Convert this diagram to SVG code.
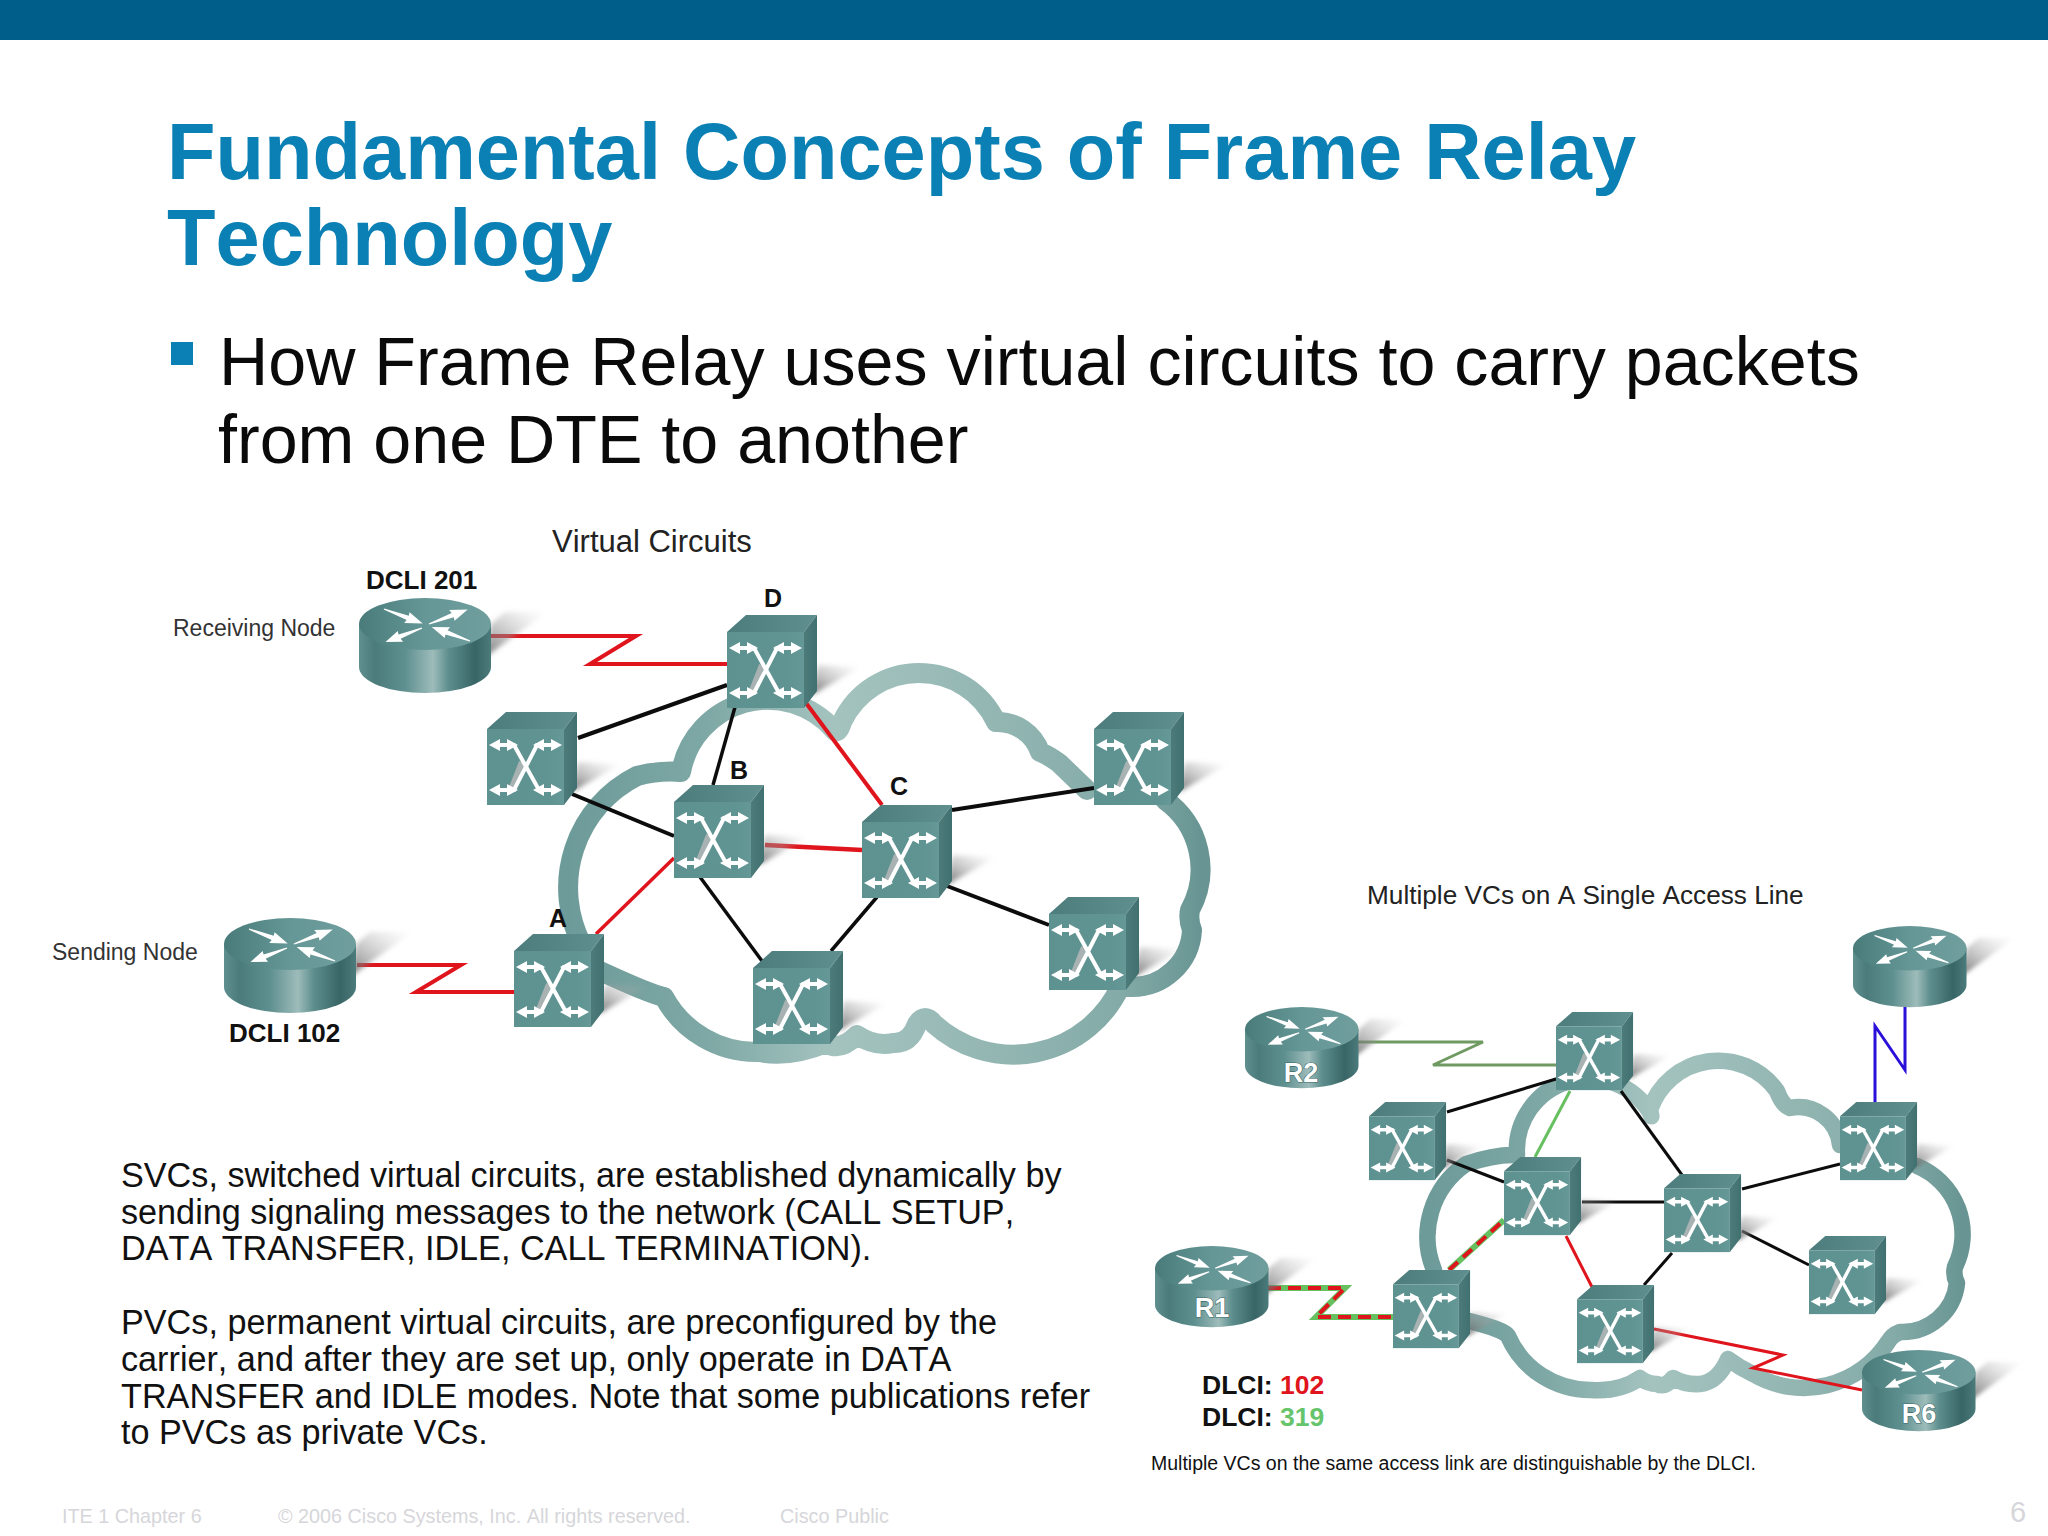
<svg xmlns="http://www.w3.org/2000/svg" xmlns:xlink="http://www.w3.org/1999/xlink" width="2048" height="1536" viewBox="0 0 2048 1536">
<style>
text{font-family:"Liberation Sans",Arial,sans-serif;font-kerning:none}
.title{font-size:79.4px;font-weight:700;fill:#0b80b4}
.bul{font-size:68.2px;fill:#0a0a0a}
.para{font-size:34.2px;fill:#111}
.foot{font-size:19.8px;fill:#d6d6da}
.cap{font-size:26.2px;fill:#222}
.lab{font-size:23px;fill:#333}
.dev{font-size:26px;font-weight:700;fill:#111}
.let{font-size:25px;font-weight:700;fill:#111}
.dl{font-size:26.5px;font-weight:700;fill:#111}
.rn{font-size:27px;font-weight:700;fill:#fff;stroke:#3d6a6a;stroke-width:1.2;paint-order:stroke;text-anchor:middle}
.cloud{fill:none;stroke-linecap:round;stroke-linejoin:round}
.k{stroke:#0c0c0c;fill:none}
.r{stroke:#e0141c;fill:none}
.sh{filter:url(#soft)}
</style>
<defs>
<filter id="soft" x="-30%" y="-30%" width="160%" height="160%"><feGaussianBlur stdDeviation="2.5"/></filter>
<linearGradient id="body" x1="0" x2="1" y1="0" y2="0"><stop offset="0" stop-color="#5f8f8f"/><stop offset=".12" stop-color="#4b7b7b"/><stop offset=".35" stop-color="#5f9090"/><stop offset=".56" stop-color="#9dbcba"/><stop offset=".68" stop-color="#5d8e8d"/><stop offset=".88" stop-color="#386565"/><stop offset="1" stop-color="#4c7b7b"/></linearGradient>
<linearGradient id="rtop" x1="0" x2="1" y1="0" y2="0"><stop offset="0" stop-color="#4a7b7b"/><stop offset=".5" stop-color="#659796"/><stop offset="1" stop-color="#6f9e9d"/></linearGradient>
<linearGradient id="stop" x1="0" x2="1" y1="0" y2="0"><stop offset="0" stop-color="#4c7c7c"/><stop offset="1" stop-color="#5f8f8e"/></linearGradient>
<linearGradient id="sfront" x1="0" x2="1" y1="0" y2="0"><stop offset="0" stop-color="#5e9291"/><stop offset=".8" stop-color="#5f9493"/><stop offset="1" stop-color="#659897"/></linearGradient>
<linearGradient id="sright" x1="0" x2="1" y1="0" y2="0"><stop offset="0" stop-color="#4c7b7a"/><stop offset="1" stop-color="#40706f"/></linearGradient>
<linearGradient id="shS" x1="0" x2="1" y1="1" y2="0"><stop offset="0" stop-color="#555" stop-opacity=".85"/><stop offset=".5" stop-color="#999" stop-opacity=".45"/><stop offset="1" stop-color="#ccc" stop-opacity="0"/></linearGradient>
<linearGradient id="cl1" x1="0" x2="1" y1="0" y2="0"><stop offset="0" stop-color="#6d9b99"/><stop offset=".22" stop-color="#7ea8a5"/><stop offset=".42" stop-color="#a4c3bf"/><stop offset=".68" stop-color="#93b6b2"/><stop offset=".87" stop-color="#84aba8"/><stop offset="1" stop-color="#689593"/></linearGradient>
<path id="ra" d="M0,-1 L27,-3.5 L26,-9 L44,0 L26,9 L27,3.5 L0,1Z" fill="#fff"/>
<g id="rarrows">
<use href="#ra" transform="matrix(.88 .33 -.3 .6 25 11)"/>
<use href="#ra" transform="matrix(.88 -.33 .3 .6 70 26)"/>
<use href="#ra" transform="matrix(-.83 .32 -.3 -.6 63 30)"/>
<use href="#ra" transform="matrix(-.87 -.32 .3 -.6 111 43)"/>
</g>
<g id="router">
<polygon class="sh" points="125,60 188,14 146,14 132,26" fill="url(#shS)"/>
<path d="M0,26 V69 A66,26 0 0 0 132,69 V26Z" fill="url(#body)"/>
<ellipse cx="66" cy="26" rx="66" ry="26" fill="url(#rtop)"/>
<use href="#rarrows"/>
</g>
<g id="switch">
<polygon class="sh" points="85,80 134,52 91,50 88,60" fill="url(#shS)"/>
<polygon points="0,17 19,0 90,0 77,17" fill="url(#stop)"/>
<polygon points="77,17 90,0 90,76 77,93" fill="url(#sright)"/>
<rect x="0" y="17" width="77" height="76" fill="url(#sfront)"/>
<path d="M35,50 L24,78" stroke="#a9b2b2" stroke-width="6" fill="none"/>
<g fill="none" stroke="#fff" stroke-width="4">
<path d="M7,33 H27 L52,78 H69"/>
<path d="M70,33 H50 L27,78 H7"/>
</g>
<g fill="#fff">
<path d="M2,33 L13,27 V39Z"/><path d="M31,33 L20,27 V39Z"/>
<path d="M75,33 L64,27 V39Z"/><path d="M46,33 L57,27 V39Z"/>
<path d="M2,78 L13,72 V84Z"/><path d="M31,78 L20,72 V84Z"/>
<path d="M75,78 L64,72 V84Z"/><path d="M46,78 L57,72 V84Z"/>
</g>
</g>
</defs>
<rect width="2048" height="1536" fill="#fff"/>
<rect id="topbar" width="2048" height="40" fill="#005f8a"/>
<text class="title" x="167" y="179">Fundamental Concepts of Frame Relay</text>
<text class="title" x="167" y="265">Technology</text>
<rect x="171" y="342" width="22" height="23" fill="#0b80b4"/>
<text class="bul" x="219" y="385">How Frame Relay uses virtual circuits to carry packets</text>
<text class="bul" x="218" y="463">from one DTE to another</text>
<g id="paragraphs">
<text class="para" x="121" y="1187">SVCs, switched virtual circuits, are established dynamically by</text>
<text class="para" x="121" y="1224">sending signaling messages to the network (CALL SETUP,</text>
<text class="para" x="121" y="1260">DATA TRANSFER, IDLE, CALL TERMINATION).</text>
<text class="para" x="121" y="1334">PVCs, permanent virtual circuits, are preconfigured by the</text>
<text class="para" x="121" y="1371">carrier, and after they are set up, only operate in DATA</text>
<text class="para" x="121" y="1408">TRANSFER and IDLE modes. Note that some publications refer</text>
<text class="para" x="121" y="1444">to PVCs as private VCs.</text>
</g>
<g id="footer">
<text class="foot" x="62" y="1523">ITE 1 Chapter 6</text>
<text class="foot" x="278" y="1523">© 2006 Cisco Systems, Inc. All rights reserved.</text>
<text class="foot" x="780" y="1523">Cisco Public</text>
<text class="foot" x="2010" y="1522" style="font-size:29px">6</text>
</g>
<text class="cap" x="552" y="552" style="font-size:31px">Virtual Circuits</text>
<text class="cap" x="1367" y="904">Multiple VCs on A Single Access Line</text>
<text class="lab" x="173" y="636">Receiving Node</text>
<text class="lab" x="52" y="960">Sending Node</text>
<text class="dl" x="1202" y="1394">DLCI: <tspan fill="#e0141c">102</tspan></text>
<text class="dl" x="1202" y="1426">DLCI: <tspan fill="#66c56c">319</tspan></text>
<text x="1151" y="1470" style="font-size:19.5px" fill="#111">Multiple VCs on the same access link are distinguishable by the DLCI.</text>

<g id="clouds">
<path id="cloud-left" class="cloud" stroke="url(#cl1)" stroke-width="20" d="M582,945 A125,125 0 0 1 637,776 Q660,770 681,772 A88,88 0 0 1 834,730 Q838,735 842,722 A85,85 0 0 1 996,722 A45,45 0 0 1 1040,752 Q1048,755 1059,763 L1087,790 M1165,800 A85,85 0 0 1 1190,910 Q1188,920 1192,930 A60,60 0 0 1 1130,987 L1120,987 A118,118 0 0 1 934,1024 Q925,1012 917,1024 Q910,1044 893,1043 Q875,1047 857,1035 Q840,1052 826,1043 Q790,1058 759,1052 A105,105 0 0 1 664,997 Q650,994 600,971"/>
<path id="cloud-right" class="cloud" stroke="url(#cl1)" stroke-width="16.5" d="M1434,1270 A88,88 0 0 1 1466,1164 Q1495,1154 1517,1155 A72,72 0 0 1 1651,1114 Q1652,1120 1650,1110 A72,72 0 0 1 1777,1091 Q1782,1105 1790,1108 A42,42 0 0 1 1840,1145 M1917,1166 A74,74 0 0 1 1955,1267 Q1953,1275 1957,1283 A55,55 0 0 1 1900,1332 Q1892,1335 1888,1342 A100,100 0 0 1 1753,1374 Q1740,1368 1728,1359 Q1718,1382 1700,1384 Q1685,1385 1673,1378 Q1665,1388 1657,1384 Q1648,1384 1640,1378 Q1620,1392 1591,1390 A90,90 0 0 1 1508,1336 Q1505,1330 1469,1321"/>
</g>

<g id="connectors" stroke-linejoin="miter">
<path class="r" stroke-width="4" d="M491,636 H636 L590,664 H727"/>
<path class="r" stroke-width="4" d="M357,965 H461 L416,992 H514"/>
<path class="k" stroke-width="4" d="M727,685 L578,738"/>
<path class="k" stroke-width="4" d="M572,794 L674,836"/>
<path class="k" stroke-width="3.5" d="M735,707 L713,785"/>
<path class="r" stroke-width="3.5" d="M596,934 L674,858"/>
<path class="k" stroke-width="3.5" d="M700,877 L762,961"/>
<path class="r" stroke-width="4" d="M806,703 L882,805"/>
<path class="r" stroke-width="4.5" d="M765,845 L862,850"/>
<path class="k" stroke-width="4" d="M952,810 L1094,788"/>
<path class="k" stroke-width="4" d="M947,886 L1049,925"/>
<path class="k" stroke-width="3.5" d="M877,897 L831,951"/>

<path fill="none" stroke="#6f9a62" stroke-width="3" d="M1358,1042 H1483 L1433,1065 H1556"/>
<path class="k" stroke-width="3" d="M1556,1079 L1447,1112"/>
<path class="k" stroke-width="3" d="M1447,1160 L1504,1182"/>
<path fill="none" stroke="#66c060" stroke-width="3" d="M1570,1091 L1535,1157"/>
<path class="k" stroke-width="3" d="M1582,1202 H1664"/>
<path class="k" stroke-width="3" d="M1621,1091 L1682,1175"/>
<path fill="none" stroke="#66c060" stroke-width="6" d="M1268,1288 H1345 L1316,1317 H1393"/>
<path class="r" stroke-width="4" stroke-dasharray="13 7" d="M1268,1288 H1345 L1316,1317 H1393"/>
<path fill="none" stroke="#66c060" stroke-width="6" d="M1449,1270 L1504,1220"/>
<path class="r" stroke-width="4" stroke-dasharray="12 7" d="M1449,1270 L1504,1220"/>
<path class="r" stroke-width="3" d="M1566,1236 L1592,1287"/>
<path class="k" stroke-width="3" d="M1672,1253 L1644,1285"/>
<path class="k" stroke-width="3" d="M1742,1189 L1840,1164"/>
<path class="k" stroke-width="3" d="M1742,1231 L1809,1265"/>
<path fill="none" stroke="#2a10d8" stroke-width="3" d="M1905,1007 V1070 L1875,1026 V1102"/>
<path class="r" stroke-width="3" d="M1654,1329 L1783,1355 L1753,1368 L1862,1390"/>
</g>

<g id="nodes-left">
<g id="router-dcli201"><use href="#router" x="359" y="598"/><text class="dev" x="366" y="589">DCLI 201</text></g>
<g id="router-dcli102"><use href="#router" x="224" y="918"/><text class="dev" x="229" y="1042">DCLI 102</text></g>
<g id="switch-d"><use href="#switch" x="727" y="615"/><text class="let" x="773" y="607" text-anchor="middle">D</text></g>
<g id="switch-left"><use href="#switch" x="487" y="712"/></g>
<g id="switch-b"><use href="#switch" x="674" y="785"/><text class="let" x="739" y="779" text-anchor="middle">B</text></g>
<g id="switch-a"><use href="#switch" x="514" y="934"/><text class="let" x="558" y="927" text-anchor="middle">A</text></g>
<g id="switch-e"><use href="#switch" x="753" y="951"/></g>
<g id="switch-c"><use href="#switch" x="862" y="805"/><text class="let" x="899" y="795" text-anchor="middle">C</text></g>
<g id="switch-ur"><use href="#switch" x="1094" y="712"/></g>
<g id="switch-lr"><use href="#switch" x="1049" y="897"/></g>
</g>
<g id="nodes-right">
<g id="router-r2"><use href="#router" transform="translate(1245 1007) scale(.86 .855)"/><text class="rn" x="1301" y="1082">R2</text></g>
<g id="router-r1"><use href="#router" transform="translate(1155 1246) scale(.86 .855)"/><text class="rn" x="1212" y="1317">R1</text></g>
<g id="router-top"><use href="#router" transform="translate(1853 926) scale(.86 .855)"/></g>
<g id="router-r6"><use href="#router" transform="translate(1862 1350) scale(.86 .855)"/><text class="rn" x="1919" y="1423">R6</text></g>
<g id="rs-top"><use href="#switch" transform="translate(1556 1012) scale(.856 .84)"/></g>
<g id="rs-left"><use href="#switch" transform="translate(1369 1102) scale(.856 .84)"/></g>
<g id="rs-mid"><use href="#switch" transform="translate(1504 1157) scale(.856 .84)"/></g>
<g id="rs-a"><use href="#switch" transform="translate(1393 1270) scale(.856 .84)"/></g>
<g id="rs-bottom"><use href="#switch" transform="translate(1577 1285) scale(.856 .84)"/></g>
<g id="rs-center"><use href="#switch" transform="translate(1664 1174) scale(.856 .84)"/></g>
<g id="rs-ur"><use href="#switch" transform="translate(1840 1102) scale(.856 .84)"/></g>
<g id="rs-lr"><use href="#switch" transform="translate(1809 1236) scale(.856 .84)"/></g>
</g>
</svg>
